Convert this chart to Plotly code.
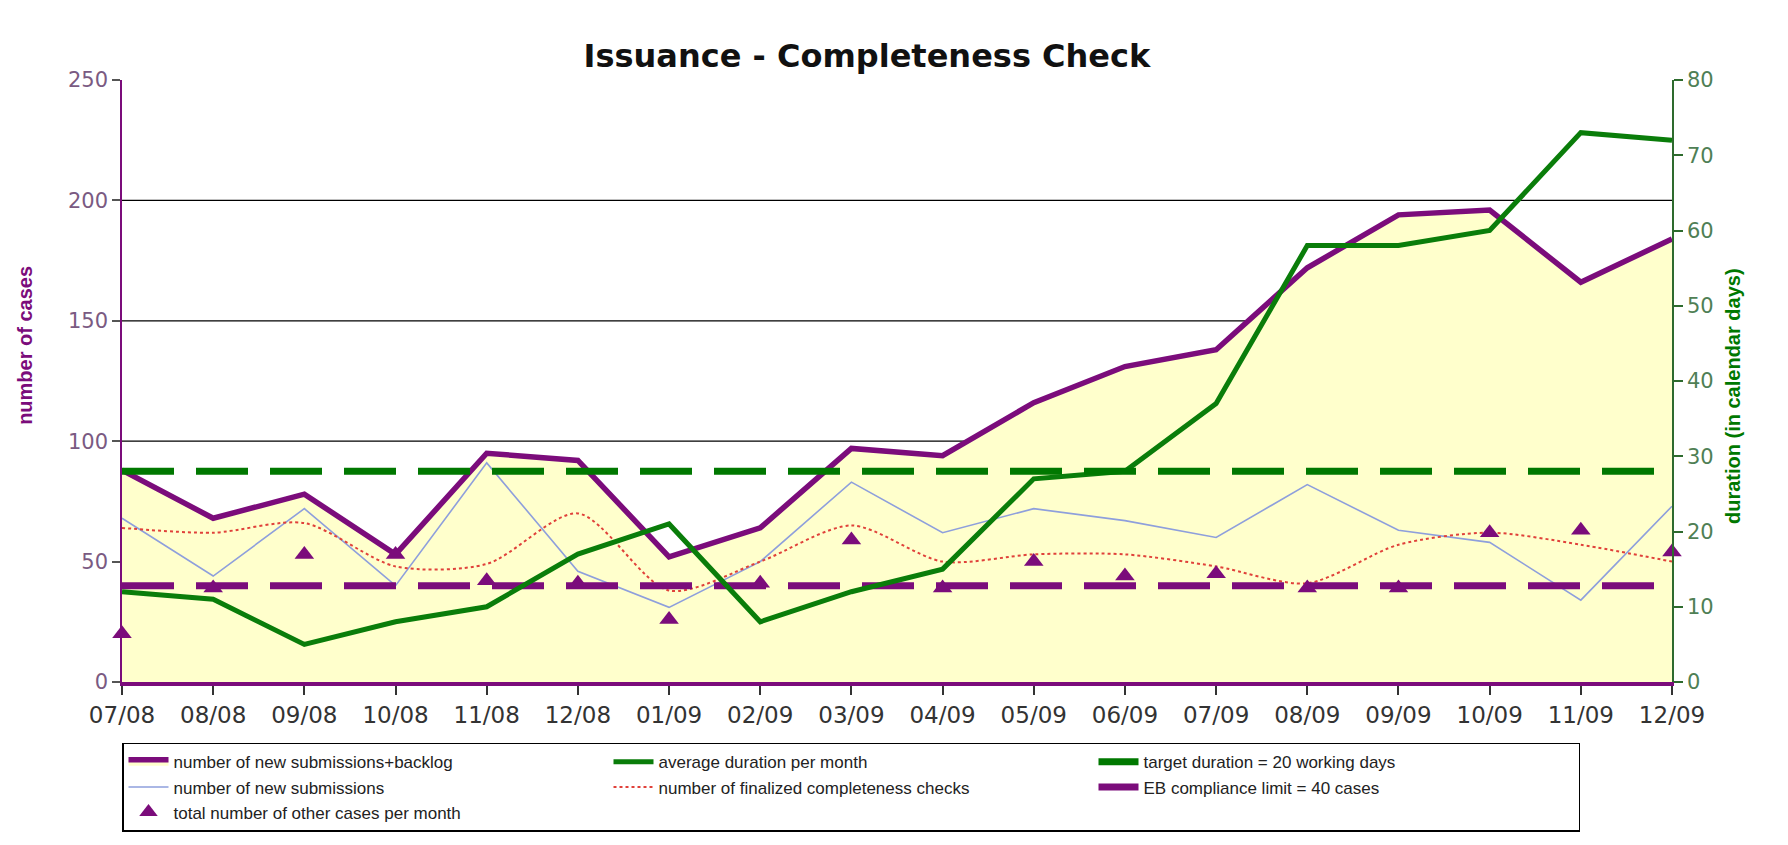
import plotly.graph_objects as go

months = ["07/08", "08/08", "09/08", "10/08", "11/08", "12/08", "01/09", "02/09", "03/09",
          "04/09", "05/09", "06/09", "07/09", "08/09", "09/09", "10/09", "11/09", "12/09"]

# number of cases (left axis)
submissions_backlog = [88, 68, 78, 53, 95, 92, 52, 64, 97, 94, 116, 131, 138, 172, 194, 196, 166, 184]
new_submissions = [68, 44, 72, 40, 91, 46, 31, 50, 83, 62, 72, 67, 60, 82, 63, 58, 34, 73]
finalized_checks = [64, 62, 66, 48, 49, 70, 38, 50, 65, 50, 53, 53, 48, 41, 57, 62, 57, 50]
other_cases = [20, 39, 53, 53, 42, 41, 26, 41, 59, 39, 50, 44, 45, 39, 39, 62, 63, 54]
eb_limit = 40

# duration in calendar days (right axis)
avg_duration = [12, 11, 5, 8, 10, 17, 21, 8, 12, 15, 27, 28, 37, 58, 58, 60, 73, 72]
target_duration = 28

left_ticks = [0, 50, 100, 150, 200, 250]
right_ticks = [0, 10, 20, 30, 40, 50, 60, 70, 80]
grid_values = [50, 100, 150, 200]

PURPLE = "#7B0C7B"
GREEN = "#0A7D0A"
DGREEN = "#007800"
BLUE = "#8E9FDC"
RED = "#E0413A"
FILL = "#FFFFCC"

x = list(range(len(months)))
x_ends = [x[0], x[-1]]

fig = go.Figure()

fig.add_trace(go.Scatter(
    x=x, y=submissions_backlog, name="number of new submissions+backlog",
    mode="lines", line=dict(color=PURPLE, width=5.5), fill="tozeroy", fillcolor=FILL,
    cliponaxis=False, yaxis="y"))
fig.add_trace(go.Scatter(
    x=x, y=avg_duration, name="average duration per month",
    mode="lines", line=dict(color=GREEN, width=5), cliponaxis=False, yaxis="y2"))
fig.add_trace(go.Scatter(
    x=x_ends, y=[target_duration] * 2, name="target duration = 20 working days",
    mode="lines", line=dict(color=DGREEN, width=7, dash="52px,22px"), yaxis="y2"))
fig.add_trace(go.Scatter(
    x=x, y=new_submissions, name="number of new submissions",
    mode="lines", line=dict(color=BLUE, width=1.6), cliponaxis=False, yaxis="y"))
fig.add_trace(go.Scatter(
    x=x, y=finalized_checks, name="number of finalized completeness checks",
    mode="lines", line=dict(color=RED, width=2, dash="dot", shape="spline", smoothing=0.8),
    cliponaxis=False, yaxis="y"))
fig.add_trace(go.Scatter(
    x=x_ends, y=[eb_limit] * 2, name="EB compliance limit = 40 cases",
    mode="lines", line=dict(color=PURPLE, width=7, dash="52px,22px"), yaxis="y"))
fig.add_trace(go.Scatter(
    x=x, y=other_cases, name="total number of other cases per month",
    mode="markers", marker=dict(symbol="triangle-up", size=17, color=PURPLE),
    cliponaxis=False, yaxis="y"))

for v in grid_values:
    fig.add_shape(type="line", xref="paper", x0=0, x1=1, yref="y", y0=v, y1=v,
                  line=dict(color="black", width=1.3), layer="below")

fig.update_layout(
    width=1788, height=845,
    margin=dict(l=114, r=124, t=72, b=171),
    paper_bgcolor="white", plot_bgcolor="white",
    font=dict(family="DejaVu Sans, Arial, sans-serif", color="#333333"),
    title=dict(text="<b>Issuance - Completeness Check</b>", x=0.4806, xref="paper",
               xanchor="center", y=0.944, yanchor="middle",
               font=dict(size=32, color="#111111", family="DejaVu Sans, Arial, sans-serif")),
    xaxis=dict(range=[0, len(months) - 1], tickvals=x, ticktext=months,
               showgrid=False, zeroline=False, showline=True, linecolor=PURPLE, linewidth=4,
               ticks="outside", ticklen=9, tickwidth=2, tickcolor="#333333",
               tickfont=dict(size=23, color="#333333")),
    yaxis=dict(range=[0, 250], tickvals=left_ticks, showgrid=False, zeroline=False,
               showline=True, linecolor=PURPLE, linewidth=1.5,
               ticks="outside", ticklen=8, tickwidth=1.5, tickcolor="#555555",
               tickfont=dict(size=21, color="#7A5A82")),
    yaxis2=dict(range=[0, 80], tickvals=right_ticks, overlaying="y", side="right",
                showgrid=False, zeroline=False, showline=True, linecolor="#2E6B2E", linewidth=1.5,
                ticks="outside", ticklen=9, tickwidth=1.5, tickcolor="#2E6B2E",
                tickfont=dict(size=21, color="#4F7F55")),
    legend=dict(orientation="h", x=0, xanchor="left", y=-0.101, yanchor="top",
                xref="paper", yref="paper",
                entrywidth=430, entrywidthmode="pixels",
                bordercolor="black", borderwidth=1.5, bgcolor="white",
                font=dict(size=17, color="#222222", family="Liberation Sans, Arial, sans-serif"),
                tracegroupgap=0, itemwidth=40),
    showlegend=True,
)

fig.add_annotation(text="<b>number of cases</b>", textangle=-90, xref="paper", yref="paper",
                   x=-0.0626, xanchor="center", y=0.56, yanchor="middle", showarrow=False,
                   font=dict(size=20, color=PURPLE, family="Liberation Sans Narrow, Liberation Sans, Arial"))
fig.add_annotation(text="<b>duration (in calendar days)</b>", textangle=-90, xref="paper", yref="paper",
                   x=1.0, xanchor="center", y=0.475, yanchor="middle", showarrow=False,
                   xshift=61, font=dict(size=20, color=DGREEN, family="Liberation Sans Narrow, Liberation Sans, Arial"))

fig.write_html("out.html")
